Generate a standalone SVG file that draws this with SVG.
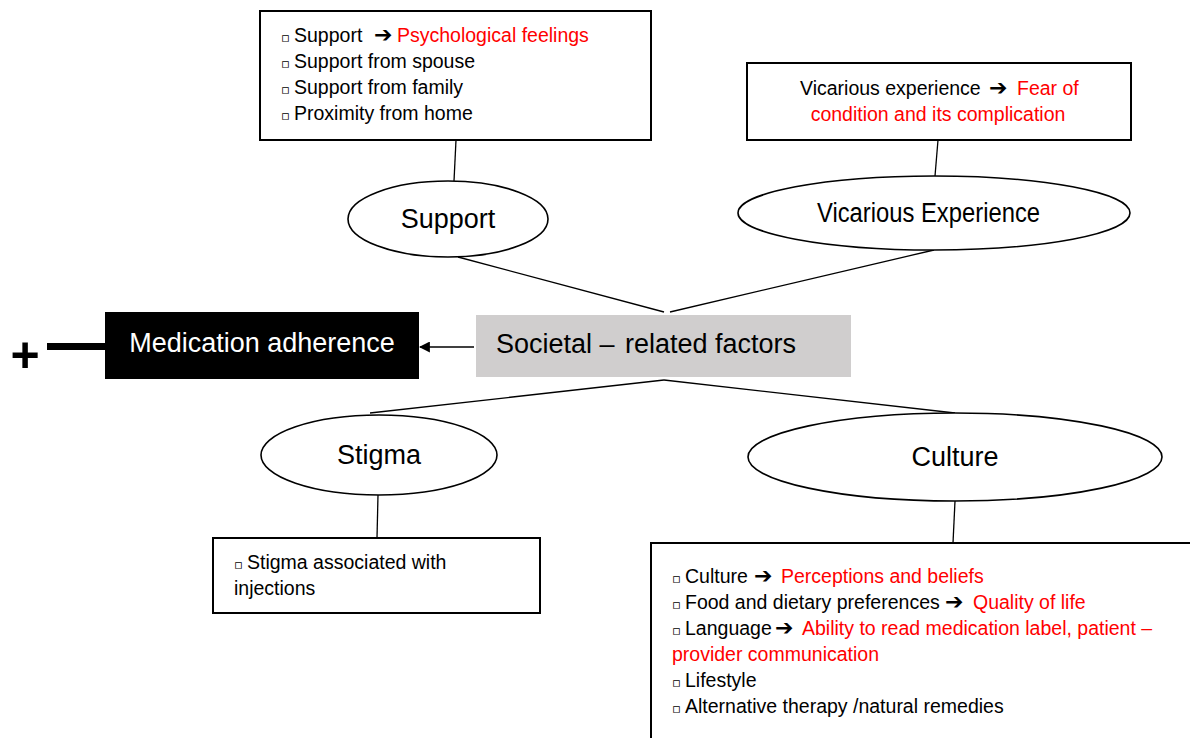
<svg xmlns="http://www.w3.org/2000/svg" width="1190" height="738" viewBox="0 0 1190 738">
<style>
text{font-family:"Liberation Sans","DejaVu Sans",sans-serif;fill:#000}
.box{fill:#fff;stroke:#000;stroke-width:2}
.ell{fill:#fff;stroke:#000;stroke-width:1.6}
.t{font-size:19.5px}
.big{font-size:27px}
.r{fill:#ff0000}
.ar{font-family:"DejaVu Sans",sans-serif;font-weight:bold;font-size:22px}
.b{font-family:"DejaVu Sans",sans-serif;font-size:13px}
.c{stroke:#000;stroke-width:1.3;fill:none}
</style>
<defs>
<marker id="ah" viewBox="0 0 10 10" refX="9" refY="5" markerWidth="11" markerHeight="11" markerUnits="userSpaceOnUse" orient="auto">
<path d="M0,0 L10,5 L0,10 z" fill="#000"/>
</marker>
</defs>
<rect width="1190" height="738" fill="#fff"/>
<g id="connectors">
<line class="c" x1="456" y1="140" x2="454" y2="181"/>
<line class="c" x1="938" y1="140" x2="935" y2="176"/>
<line class="c" x1="458" y1="257" x2="664" y2="312"/>
<line class="c" x1="934" y1="250" x2="670" y2="312"/>
<line class="c" x1="664" y1="380" x2="370" y2="413"/>
<line class="c" x1="664" y1="380" x2="955" y2="413"/>
<line class="c" x1="378" y1="495" x2="377" y2="538"/>
<line class="c" x1="955" y1="501" x2="953" y2="543"/>
<line class="c" x1="474" y1="347" x2="420" y2="347" marker-end="url(#ah)"/>
<line x1="47" y1="346.5" x2="105" y2="346.5" stroke="#000" stroke-width="7"/>
</g>
<g id="plus">
<text x="25" y="372" font-size="50" text-anchor="middle" font-weight="bold">+</text>
</g>
<g id="support-box">
<rect class="box" x="260" y="11" width="391" height="129"/>
<text class="t" y="42"><tspan class="b" x="281">▫</tspan><tspan x="294">Support</tspan><tspan class="ar" x="374">➔</tspan><tspan class="r" x="397">Psychological feelings</tspan></text>
<text class="t" y="68"><tspan class="b" x="281">▫</tspan><tspan x="294">Support from spouse</tspan></text>
<text class="t" y="94"><tspan class="b" x="281">▫</tspan><tspan x="294">Support from family</tspan></text>
<text class="t" y="120"><tspan class="b" x="281">▫</tspan><tspan x="294">Proximity from home</tspan></text>
</g>
<g id="vicarious-box">
<rect class="box" x="747" y="63" width="384" height="77"/>
<text class="t" y="95"><tspan x="800">Vicarious experience</tspan><tspan class="ar" x="989">➔</tspan><tspan class="r" x="1017">Fear of</tspan></text>
<text class="t r" x="938" y="121" text-anchor="middle">condition and its complication</text>
</g>
<g id="support">
<ellipse class="ell" cx="448" cy="219" rx="100" ry="38"/>
<text class="big" x="448" y="228" text-anchor="middle">Support</text>
</g>
<g id="vicarious">
<ellipse class="ell" cx="934" cy="213" rx="196" ry="37"/>
<text class="big" x="817" y="222" textLength="223" lengthAdjust="spacingAndGlyphs">Vicarious Experience</text>
</g>
<g id="societal">
<rect x="476" y="315" width="375" height="62" fill="#d0cece"/>
<text class="big" y="353"><tspan x="496">Societal –</tspan><tspan x="625">related factors</tspan></text>
</g>
<g id="adherence">
<rect x="105" y="312" width="314" height="67" fill="#000"/>
<text class="big" x="262" y="352" text-anchor="middle" style="fill:#fff">Medication adherence</text>
</g>
<g id="stigma">
<ellipse class="ell" cx="379" cy="455" rx="118" ry="40"/>
<text class="big" x="379" y="464" text-anchor="middle">Stigma</text>
</g>
<g id="culture">
<ellipse class="ell" cx="955" cy="457" rx="207" ry="44"/>
<text class="big" x="955" y="466" text-anchor="middle">Culture</text>
</g>
<g id="stigma-box">
<rect class="box" x="213" y="538" width="327" height="75"/>
<text class="t" y="569"><tspan class="b" x="234">▫</tspan><tspan x="247">Stigma associated with</tspan></text>
<text class="t" x="234" y="595">injections</text>
</g>
<g id="culture-box">
<rect class="box" x="651" y="543" width="560" height="220"/>
<text class="t" y="583"><tspan class="b" x="672">▫</tspan><tspan x="685">Culture</tspan><tspan class="ar" x="754">➔</tspan><tspan class="r" x="781">Perceptions and beliefs</tspan></text>
<text class="t" y="609"><tspan class="b" x="672">▫</tspan><tspan x="685">Food and dietary preferences</tspan><tspan class="ar" x="945">➔</tspan><tspan class="r" x="973">Quality of life</tspan></text>
<text class="t" y="635"><tspan class="b" x="672">▫</tspan><tspan x="685">Language</tspan><tspan class="ar" x="775">➔</tspan><tspan class="r" x="802">Ability to read medication label, patient –</tspan></text>
<text class="t r" x="672" y="661">provider communication</text>
<text class="t" y="687"><tspan class="b" x="672">▫</tspan><tspan x="685">Lifestyle</tspan></text>
<text class="t" y="713"><tspan class="b" x="672">▫</tspan><tspan x="685">Alternative therapy /natural remedies</tspan></text>
</g>
</svg>
